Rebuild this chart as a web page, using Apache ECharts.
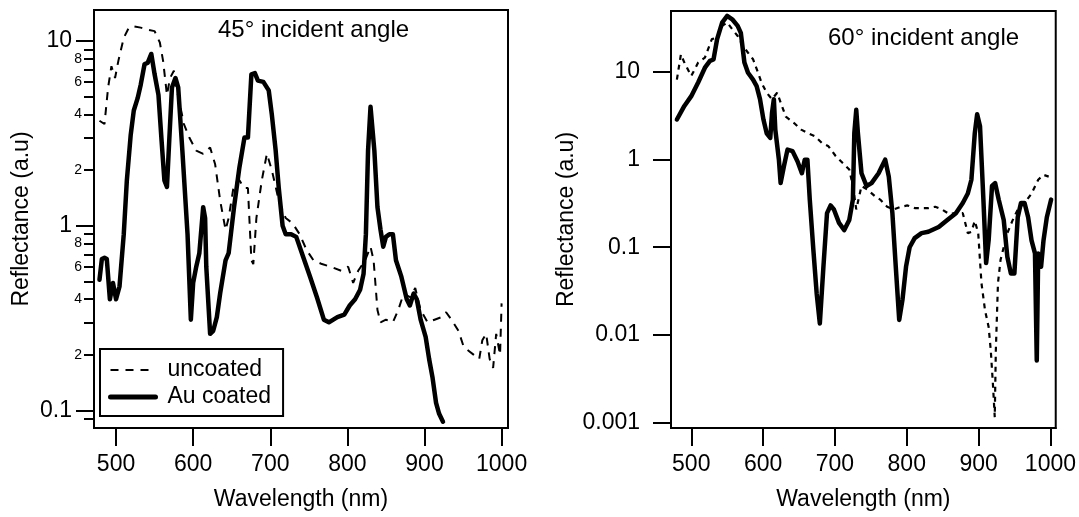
<!DOCTYPE html>
<html><head><meta charset="utf-8">
<script src="https://cdn.jsdelivr.net/npm/echarts@6/dist/echarts.min.js"></script>
<style>html,body{margin:0;padding:0;background:#fff}#c{width:1079px;height:517px}</style>
</head><body><div id="c"></div>
<script>
// ---- data: 45° incident angle ----
const wl45Au = [478.5,481.6,485,488,492,496,500,504.5,510,514,519,523,528,532,537,541,545.7,550,555,559,562.7,566,569,572.5,577,580.6,586,592.7,597,600,604,608,613,615.5,617,622,626,630.7,635,642,646,653,660,666.5,671,675.5,680,684,691,698,702,707,711,716,720,727,733.7,742.6,751.6,760.5,769.5,776,787,796,803,810,816.5,821,824,826.8,830,832,835,839,843,846.5,850,854.5,859,863,870,877,881,886,890,895,901.5,906,910.5,915,919,924];
const r45Au = [0.51,0.66,0.67,0.66,0.40,0.49,0.40,0.47,0.9,1.76,3.1,4.2,4.9,5.8,7.5,7.6,8.5,6.6,5.1,2.9,1.76,1.62,2.9,5.6,6.3,5.6,2.55,0.9,0.31,0.49,0.6,0.71,1.26,1.1,0.6,0.26,0.27,0.32,0.43,0.65,0.71,1.26,2.07,3.0,3.0,6.6,6.7,6.1,6.0,5.4,4.0,2.55,1.6,1.0,0.9,0.9,0.87,0.68,0.53,0.41,0.31,0.30,0.32,0.33,0.37,0.40,0.45,0.55,0.9,2.55,4.4,4.5,2.55,1.26,0.95,0.77,0.87,0.9,0.9,0.65,0.53,0.40,0.37,0.43,0.40,0.31,0.25,0.19,0.15,0.11,0.096,0.087];
const wl45Un = [478.5,485,489.7,494,498.7,503,510,516.6,523,532,541,550,556.8,561,566,570,575,579,588,595,604,613,622,628.5,635,642,646,653,660,666,671,675.5,678,682,689,695.6,702,711,720,729,738,747,756,767,778,792,801,807.5,814,823,830,834,839,843,850,859,866,873,881.5,888,895,904,913,922,928,935,944,951,957.5,964,971,975,980,984.5,989,993,998,1000];
const r45Un = [3.7,3.55,5.6,7.3,6.3,7.8,10.4,11.8,12,11.8,11.5,11.3,9.8,7.8,5.1,6.3,6.9,5.4,3.55,3.0,2.55,2.45,2.65,2.15,1.37,0.95,1.1,1.68,1.76,1.6,1.6,0.65,0.62,1.1,1.76,2.45,2.0,1.37,1.1,1.03,0.9,0.74,0.65,0.62,0.6,0.57,0.6,0.49,0.57,0.65,0.77,0.65,0.35,0.30,0.31,0.30,0.35,0.43,0.41,0.46,0.35,0.30,0.31,0.32,0.34,0.31,0.27,0.22,0.21,0.20,0.19,0.24,0.26,0.19,0.17,0.26,0.20,0.38];
// ---- data: 60° incident angle ----
const wl60Au = [480,490.4,500,509.6,519,526,531,536,543,550,557,564.6,569,574,579,586,591,595.7,600.5,605,610,612.4,615,617,622,624.4,629,634,641,648,654,658,661.7,665,670,674.6,679,684,689,694,698.6,705.7,713,720,725,727,729.7,732,737,744,751,760.8,765.5,770,775,780,784.7,789.5,794,799,804,811,820.6,830,844.5,856.5,868.4,878,885,890,894.7,898,902,906.7,910.5,914,918.7,923,928,935,940,945,949.8,954.5,959,964,969,973.7,978.5,981,983,987,990.4,995,1001];
const r60Au = [2.87,4.1,5.3,7.6,11.2,13.4,13.9,23.7,36.7,43.7,40,33.6,28,12.8,9.8,8.2,6.9,4.9,2.87,2.0,1.77,3.4,4.9,2.2,1.0,0.54,0.84,1.3,1.25,0.95,0.70,1.0,1.0,0.35,0.093,0.0297,0.0135,0.06,0.245,0.3,0.27,0.19,0.157,0.205,0.35,2.0,3.7,2.0,0.7,0.5,0.54,0.70,0.84,1.0,0.64,0.245,0.06,0.0148,0.025,0.06,0.10,0.127,0.145,0.15,0.17,0.205,0.245,0.32,0.41,0.59,2.0,3.3,2.4,0.35,0.066,0.12,0.5,0.54,0.35,0.205,0.078,0.05,0.05,0.22,0.32,0.32,0.22,0.12,0.085,0.0051,0.085,0.06,0.12,0.22,0.35];
const wl60Un = [480,485.6,490.4,500,509.6,519,528.7,536,543,550,557,564.6,572,579,586,593,598,605,612.4,619.6,624.4,631.6,643.5,653,662.7,672,681.8,691,701,710.5,720,725,729.7,737,746,756,763,772.7,782,792,801,811,820.6,830,839.7,849,859,868.4,878,885,890,894.7,899.5,904,909,914,917,920,922.5,924,927,930.6,935,940,947,954.5,964,973.7,983,990.4,997.6];
const r60Un = [8.2,15.9,12.8,9.0,12.8,14.6,23.7,24.7,33.6,36.7,30.8,25.8,19.8,16.6,14,9.8,7.5,5.8,4.9,5.8,4.5,3.1,2.6,2.2,2.0,1.85,1.55,1.42,1.1,0.92,0.77,0.5,0.27,0.5,0.45,0.38,0.35,0.29,0.27,0.29,0.30,0.28,0.28,0.28,0.29,0.27,0.24,0.245,0.245,0.145,0.15,0.2,0.145,0.039,0.019,0.0123,0.0066,0.0027,0.00115,0.0066,0.039,0.072,0.10,0.145,0.2,0.27,0.32,0.41,0.59,0.67,0.64];
// ---- ticks ----
const xTicks = [500,600,700,800,900,1000];
const yMajor45 = [0.1,1,10];
const yMinor45 = [0.09,0.2,0.3,0.4,0.5,0.6,0.7,0.8,0.9,2,3,4,5,6,7,8,9];
const yMinorLabels45 = [0.2,0.4,0.6,0.8,2,4,6,8];
const yMajor60 = [0.001,0.01,0.1,1,10];
const seriesNames = ['uncoated','Au coated'];
const titles = ['45° incident angle','60° incident angle'];

const FONT = '"Liberation Sans", Arial, Helvetica, sans-serif';
const pairs = (xs, ys) => xs.map((x, i) => [x, ys[i]]);
const black = '#000';
const plain = v => String(+(+v).toPrecision(3));

function xAxisOf(g, min, max) {
  return {
    gridIndex: g, type: 'value', min: min, max: max,
    name: 'Wavelength (nm)', nameLocation: 'middle', nameGap: 60,
    nameTextStyle: {fontSize: 23, color: black, fontFamily: FONT},
    axisLine: {show: true, onZero: false, lineStyle: {color: black, width: 2}},
    axisTick: {show: true, inside: false, length: 18, lineStyle: {color: black, width: 2}, customValues: xTicks},
    axisLabel: {customValues: xTicks, fontSize: 23, color: black, fontFamily: FONT, margin: 25, formatter: plain},
    splitLine: {show: false}
  };
}

const chart = echarts.init(document.getElementById('c'));
chart.setOption({
  animation: false,
  backgroundColor: '#fff',
  title: [
    {text: titles[0], left: 218, top: 18, padding: 0, textStyle: {fontSize: 24, fontWeight: 'normal', color: black, fontFamily: FONT}},
    {text: titles[1], left: 828, top: 26, padding: 0, textStyle: {fontSize: 24, fontWeight: 'normal', color: black, fontFamily: FONT}}
  ],
  grid: [
    {left: 94, top: 10, width: 414, height: 418, show: true, borderColor: black, borderWidth: 2, backgroundColor: 'transparent'},
    {left: 671, top: 11, width: 385, height: 417, show: true, borderColor: black, borderWidth: 2, backgroundColor: 'transparent'}
  ],
  legend: {
    data: [
      {name: seriesNames[0], itemStyle: {opacity: 0}, lineStyle: {color: black, width: 2, type: [8, 7]}},
      {name: seriesNames[1], itemStyle: {opacity: 0}, lineStyle: {color: black, width: 5}}
    ],
    orient: 'vertical', left: 100, top: 349,
    borderColor: black, borderWidth: 2, padding: [9, 12, 7, 8],
    itemWidth: 45, itemHeight: 14, itemGap: 3,
    itemStyle: {opacity: 0},
    textStyle: {fontSize: 23, lineHeight: 24, color: black, fontFamily: FONT, padding: [0, 0, 0, 7]},
    backgroundColor: '#fff'
  },
  xAxis: [xAxisOf(0, 471.4, 1008.3), xAxisOf(1, 471.8, 1007.4)],
  yAxis: [
    {
      gridIndex: 0, type: 'log', logBase: 10, min: 0.0804, max: 14.7,
      name: 'Reflectance (a.u)', nameLocation: 'middle', nameGap: 61,
      nameTextStyle: {fontSize: 23, color: black, fontFamily: FONT},
      axisLine: {show: true, onZero: false, lineStyle: {color: black, width: 2}},
      axisTick: {show: true, inside: false, length: 18, lineStyle: {color: black, width: 2}, customValues: yMajor45},
      axisLabel: {customValues: yMajor45, fontSize: 23, color: black, fontFamily: FONT, margin: 22, formatter: plain},
      splitLine: {show: false}
    },
    {
      gridIndex: 0, type: 'log', logBase: 10, min: 0.0804, max: 14.7, position: 'left', offset: 0,
      axisLine: {show: false},
      axisTick: {show: true, inside: false, length: 10, lineStyle: {color: black, width: 2}, customValues: yMinor45},
      axisLabel: {customValues: yMinorLabels45, fontSize: 14, color: black, fontFamily: FONT, margin: 12,
        formatter: v => String(Math.round(v / Math.pow(10, Math.floor(Math.log10(v) + 1e-9))))},
      splitLine: {show: false}
    },
    {
      gridIndex: 1, type: 'log', logBase: 10, min: 0.000865, max: 49.7,
      name: 'Reflectance (a.u)', nameLocation: 'middle', nameGap: 87,
      nameTextStyle: {fontSize: 23, color: black, fontFamily: FONT},
      axisLine: {show: true, onZero: false, lineStyle: {color: black, width: 2}},
      axisTick: {show: true, inside: false, length: 18, lineStyle: {color: black, width: 2}, customValues: yMajor60},
      axisLabel: {customValues: yMajor60, fontSize: 23, color: black, fontFamily: FONT, margin: 31, formatter: plain},
      splitLine: {show: false}
    }
  ],
  series: [
    {name: seriesNames[0], type: 'line', xAxisIndex: 0, yAxisIndex: 0, data: pairs(wl45Un, r45Un),
      symbol: 'none', showSymbol: false, lineStyle: {color: black, width: 2, type: [8, 7]}, itemStyle: {color: black}, z: 3},
    {name: seriesNames[1], type: 'line', xAxisIndex: 0, yAxisIndex: 0, data: pairs(wl45Au, r45Au),
      symbol: 'none', showSymbol: false, lineStyle: {color: black, width: 4.5, join: 'round', cap: 'round'}, itemStyle: {color: black}, z: 4},
    {name: seriesNames[0], type: 'line', xAxisIndex: 1, yAxisIndex: 2, data: pairs(wl60Un, r60Un),
      symbol: 'none', showSymbol: false, lineStyle: {color: black, width: 2.2, type: [5, 5]}, itemStyle: {color: black}, z: 3},
    {name: seriesNames[1], type: 'line', xAxisIndex: 1, yAxisIndex: 2, data: pairs(wl60Au, r60Au),
      symbol: 'none', showSymbol: false, lineStyle: {color: black, width: 4.5, join: 'round', cap: 'round'}, itemStyle: {color: black}, z: 4}
  ]
});
</script>
</body></html>
